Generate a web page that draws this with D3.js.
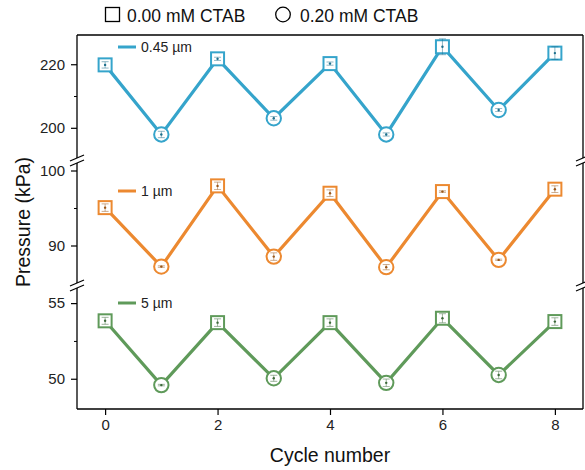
<!DOCTYPE html>
<html><head><meta charset="utf-8">
<script src="https://cdn.jsdelivr.net/npm/d3@7"></script>
<style>body{margin:0;background:#fff}svg{display:block;font-family:"Liberation Sans",Arial,sans-serif}</style>
</head><body><svg id="c" width="585" height="470"></svg>
<script>
const cycles = [0,1,2,3,4,5,6,7,8];
const markerShapes = ["square","circle","square","circle","square","circle","square","circle","square"];
const sizeLabels = ["0.45 µm","1 µm","5 µm"];
const colors = ["#35a4cb","#ec8930","#5f9a5a"];
const darkColors = ["#1d6f8c","#9a5618","#3b6838"];
const p045 = [219.8,197.9,221.7,203.0,220.2,197.9,225.5,205.6,223.5];
const e045 = [1.0,1.0,0.5,0.6,0.5,0.5,2.5,0.5,2.0];
const p1 = [95.05,87.19,97.95,88.52,96.97,87.11,97.19,88.08,97.51];
const e1 = [0.5,0.1,0.5,0.5,0.45,0.35,0.1,0.1,0.45];
const p5 = [53.83,49.58,53.71,50.03,53.71,49.73,54.0,50.25,53.78];
const e5 = [0.23,0.05,0.25,0.2,0.25,0.25,0.3,0.25,0.25];
const yDomains = [[190.5,229.2],[85,101],[48,56]];
const yMajorTicks = [[200,220],[90,100],[50,55]];
const yMinorTicks = [[210],[95],[52.5]];
const xTicks = [0,2,4,6,8];
const legendLabels = ["0.00 mM CTAB","0.20 mM CTAB"];

const svg = d3.select("#c");
const L = 77, R = 583, T = 35, B = 409;
const panelRanges = [[158,35],[283,163],[409,288]];
const legendY = [47,191,303];
const x = d3.scaleLinear().domain([-0.5,8.5]).range([L,R]);
const series = [p045,p1,p5];
const errs = [e045,e1,e5];

svg.append("line").attr("x1",L).attr("x2",R).attr("y1",T).attr("y2",T).attr("stroke","#000").attr("stroke-width",1.3);
const xa = svg.append("g").attr("transform",`translate(0,${B})`)
  .call(d3.axisBottom(x).tickValues(xTicks).tickSize(6).tickPadding(4).tickFormat(d3.format("d")));
xa.select(".domain").attr("d",`M${L},0H${R}`).attr("stroke-width",1.3);
xa.selectAll("text").attr("font-size",15).attr("fill","#222").attr("font-family","Liberation Sans, Arial, sans-serif");
xa.selectAll(".tick line").attr("stroke-width",1.2);

series.forEach((vals,i)=>{
  const [y0,y1] = panelRanges[i];
  const y = d3.scaleLinear().domain(yDomains[i]).range([y0,y1]);
  const g = svg.append("g");
  const ya = g.append("g").attr("transform",`translate(${L},0)`)
    .call(d3.axisLeft(y).tickValues(yMajorTicks[i]).tickSize(6).tickPadding(6).tickFormat(d3.format("d")));
  ya.select(".domain").attr("d",`M0,${y0}V${y1}`).attr("stroke-width",1.3);
  ya.selectAll("text").attr("font-size",15).attr("fill","#222").attr("font-family","Liberation Sans, Arial, sans-serif");
  ya.selectAll(".tick line").attr("stroke-width",1.2);
  g.append("g").attr("transform",`translate(${L},0)`)
    .call(d3.axisLeft(y).tickValues(yMinorTicks[i]).tickSize(3).tickFormat(""))
    .select(".domain").remove();
  g.append("line").attr("x1",R).attr("x2",R).attr("y1",y0).attr("y2",y1).attr("stroke","#000").attr("stroke-width",1.3);
  const line = d3.line().x((d,j)=>x(cycles[j])).y(d=>y(d));
  g.append("path").datum(vals).attr("d",line).attr("fill","none").attr("stroke",colors[i]).attr("stroke-width",3.2).attr("stroke-linejoin","miter");
  vals.forEach((v,j)=>{
    const cx = x(cycles[j]), cy = y(v);
    if(markerShapes[j]==="square"){
      g.append("rect").attr("x",cx-6.5).attr("y",cy-6.5).attr("width",13).attr("height",13)
        .attr("fill","#fff").attr("stroke",colors[i]).attr("stroke-width",2);
    } else {
      g.append("circle").attr("cx",cx).attr("cy",cy).attr("r",7.2)
        .attr("fill","#fff").attr("stroke",colors[i]).attr("stroke-width",2);
    }
    const eTop = y(v+errs[i][j]), eBot = y(v-errs[i][j]);
    const eg = g.append("g").attr("stroke",darkColors[i]).attr("stroke-width",0.7).attr("opacity",0.7);
    eg.append("line").attr("x1",cx).attr("x2",cx).attr("y1",eTop).attr("y2",eBot);
    eg.append("line").attr("x1",cx-3.5).attr("x2",cx+3.5).attr("y1",eTop).attr("y2",eTop);
    eg.append("line").attr("x1",cx-3.5).attr("x2",cx+3.5).attr("y1",eBot).attr("y2",eBot);
    g.append("circle").attr("cx",cx).attr("cy",cy).attr("r",1.2).attr("fill",darkColors[i]);
  });
  const ly = legendY[i];
  g.append("line").attr("x1",118).attr("x2",136).attr("y1",ly).attr("y2",ly).attr("stroke",colors[i]).attr("stroke-width",3);
  g.append("text").attr("x",141).attr("y",ly+5).attr("font-size",14).attr("fill","#222").text(sizeLabels[i]);
});

const breaks = [[158,163],[283,288]];
breaks.forEach(([a,b])=>{
  [L,R].forEach(xx=>{
    svg.append("rect").attr("x",xx-3).attr("y",a).attr("width",6).attr("height",b-a).attr("fill","#fff");
    [a,b].forEach(yy=>{
      svg.append("line").attr("x1",xx-7).attr("y1",yy+3).attr("x2",xx+7).attr("y2",yy-3)
        .attr("stroke","#000").attr("stroke-width",1.2);
    });
  });
});

svg.append("rect").attr("x",105.5).attr("y",7.5).attr("width",14).attr("height",14).attr("fill","none").attr("stroke","#000").attr("stroke-width",1.3);
svg.append("text").attr("x",127).attr("y",21.5).attr("font-size",17.5).attr("fill","#111").text(legendLabels[0]);
svg.append("circle").attr("cx",283).attr("cy",14.5).attr("r",7.3).attr("fill","none").attr("stroke","#000").attr("stroke-width",1.3);
svg.append("text").attr("x",300).attr("y",21.5).attr("font-size",17.5).attr("fill","#111").text(legendLabels[1]);

svg.append("text").attr("x",330).attr("y",462).attr("text-anchor","middle").attr("font-size",19.5).attr("fill","#111").text("Cycle number");
svg.append("text").attr("transform","translate(30,222) rotate(-90)").attr("text-anchor","middle").attr("font-size",19.5).attr("fill","#111").text("Pressure (kPa)");
</script></body></html>
